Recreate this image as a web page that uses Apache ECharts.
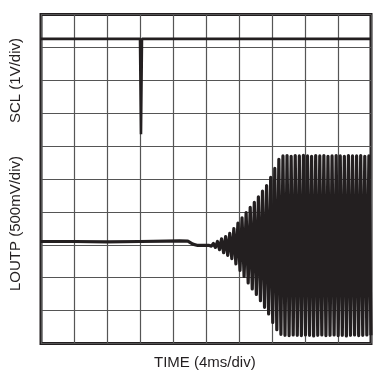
<!DOCTYPE html>
<html><head><meta charset="utf-8">
<script src="https://cdn.jsdelivr.net/npm/echarts@6/dist/echarts.min.js"></script>
<style>html,body{margin:0;padding:0;background:#fff}#c{width:374px;height:374px}</style>
</head><body><div id="c"></div>
<script>
// Axis divisions (scope grid: 10 x 10)
const xDivs = [0, 10];
const yDivs = [0, 10];
// SCL trace (x in divisions, y in divisions)
const sclX = [0, 3.0, 3.015, 3.03, 3.045, 3.06, 10];
const sclY = [9.26, 9.26, 9.28, 6.36, 6.36, 9.26, 9.26];
// LOUTP quiet part before oscillation
const loutX = [0, 1.0, 2.0, 3.0, 3.8, 4.2, 4.45, 4.6, 4.75, 5.1];
const loutY = [3.10, 3.10, 3.09, 3.10, 3.11, 3.12, 3.11, 3.02, 2.98, 2.98];
// LOUTP oscillation: start, period (div), and per-cycle peaks
const oscStart = 5.1;
const oscPeriod = 0.124;
const oscUpper = [3.00,3.04,3.10,3.18,3.25,3.35,3.49,3.66,3.82,3.98,4.14,4.29,4.46,4.63,4.80,5.05,5.32,5.60,5.70,
  5.71,5.69,5.71,5.70,5.72,5.70,5.69,5.71,5.70,5.71,5.69,5.70,5.71,5.70,5.69,5.71,5.70,5.70,5.71,5.69,5.70];
const oscLower = [2.96,2.92,2.85,2.76,2.68,2.58,2.42,2.22,2.04,1.84,1.66,1.49,1.30,1.10,0.90,0.64,0.42,0.28,0.25,
  0.24,0.26,0.25,0.24,0.26,0.25,0.23,0.25,0.26,0.24,0.25,0.26,0.24,0.25,0.23,0.25,0.26,0.24,0.25,0.26,0.25];

const scl = sclX.map((x, i) => [x, sclY[i]]);
const lout = loutX.map((x, i) => [x, loutY[i]]);
for (let k = 0; k < oscUpper.length; k++) {
  lout.push([oscStart + k * oscPeriod, oscUpper[k]]);
  lout.push([oscStart + k * oscPeriod + oscPeriod / 2, oscLower[k]]);
}

const font = "'Liberation Sans Narrow', 'Liberation Sans', Arial, sans-serif";
const chart = echarts.init(document.getElementById('c'), null, {renderer: 'canvas'});
const axisCommon = {
  type: 'value', interval: 1,
  axisLabel: {show: false}, axisTick: {show: false}, axisLine: {show: false},
  splitLine: {show: true, lineStyle: {color: '#555', width: 1.2}}
};
chart.setOption({
  animation: false,
  grid: {left: 41, top: 14.5, width: 330, height: 329, show: true,
         borderColor: '#231f20', borderWidth: 3, backgroundColor: '#fff'},
  xAxis: Object.assign({}, axisCommon, {min: xDivs[0], max: xDivs[1]}),
  yAxis: Object.assign({}, axisCommon, {min: yDivs[0], max: yDivs[1]}),
  series: [
    {type: 'line', data: scl, showSymbol: false, clip: true,
     lineStyle: {color: '#231f20', width: 2.6}},
    {type: 'line', data: lout, showSymbol: false, clip: true,
     lineStyle: {color: '#231f20', width: 3.2, join: 'round'}}
  ],
  graphic: [
    {type: 'text', left: 154, top: 355, style: {text: 'TIME (4ms/div)', font: '15px ' + font, fill: '#231f20'}},
    {type: 'text', rotation: Math.PI / 2, x: 8, y: 123, style: {text: 'SCL (1V/div)', font: '15px ' + font, fill: '#231f20', textVerticalAlign: 'top'}},
    {type: 'text', rotation: Math.PI / 2, x: 8, y: 291, style: {text: 'LOUTP (500mV/div)', font: '15px ' + font, fill: '#231f20', textVerticalAlign: 'top'}}
  ]
});
</script></body></html>
